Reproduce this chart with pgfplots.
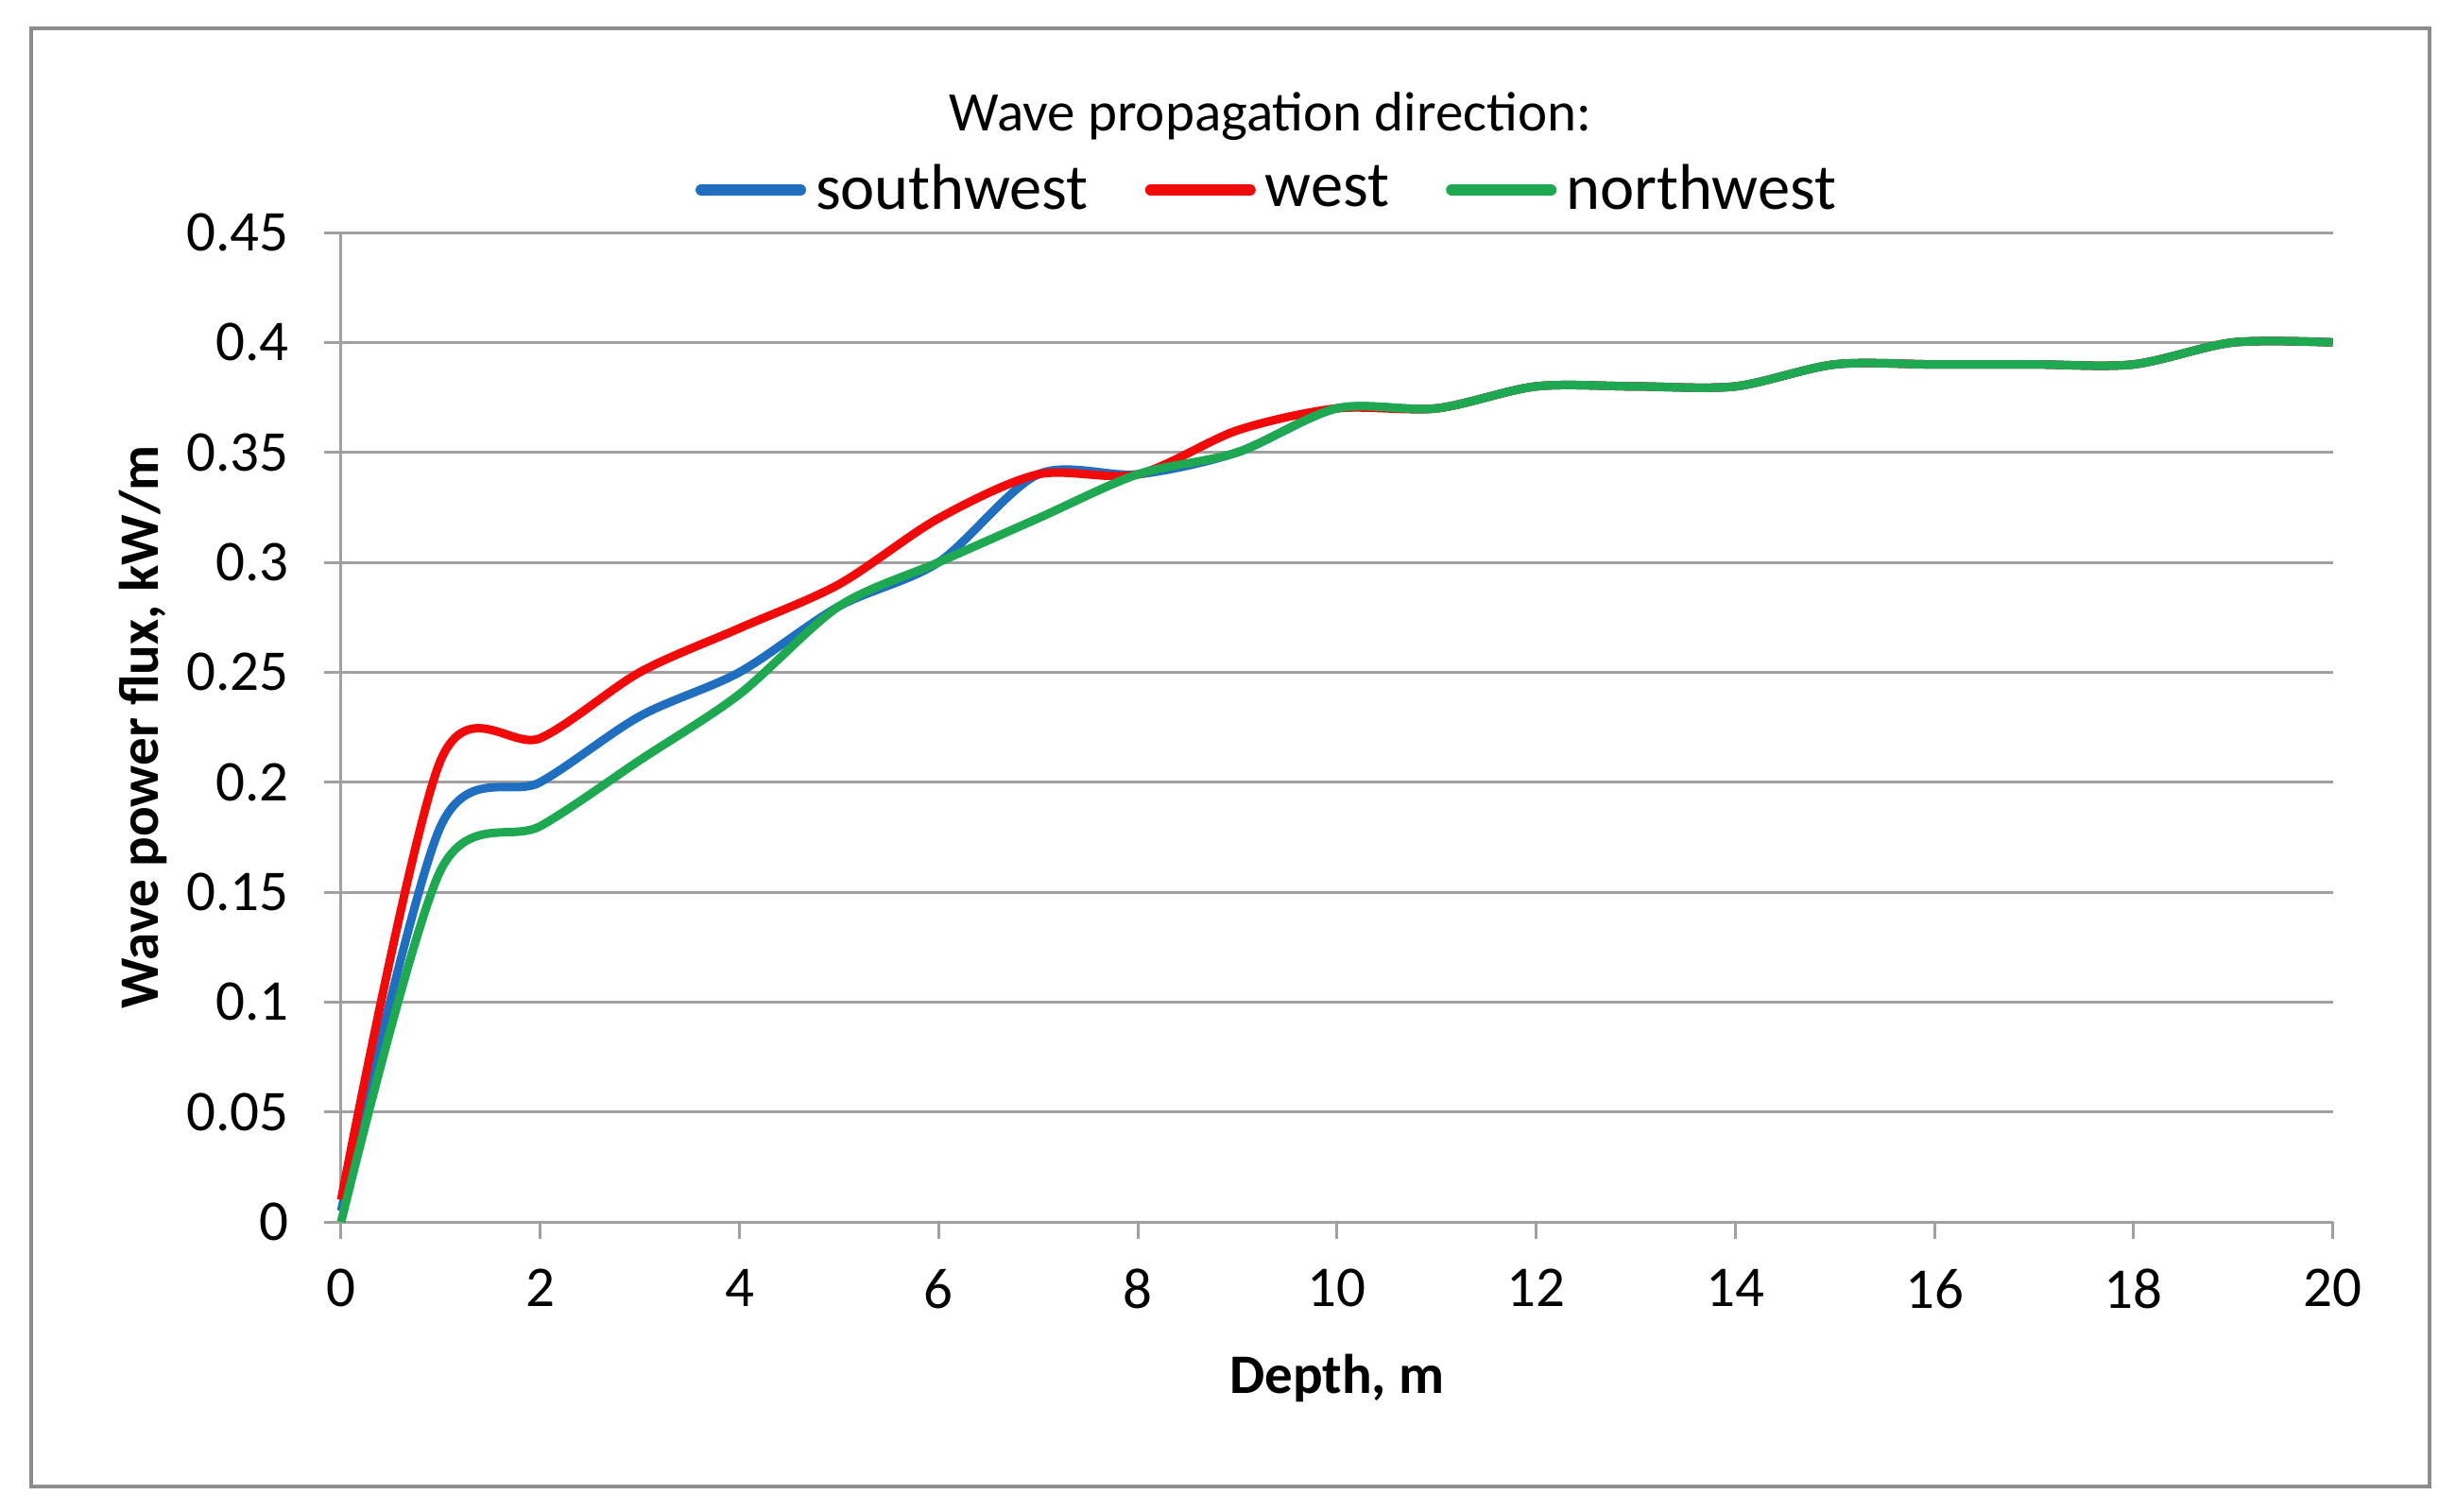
\documentclass[border=0pt]{standalone}
\usepackage{pgfplots}
\pgfplotsset{compat=1.18}
\usepackage{fontspec}
\setmainfont{Carlito}
\definecolor{cblue}{HTML}{1F6EBF}
\definecolor{cred}{HTML}{F00A0A}
\definecolor{cgreen}{HTML}{1DA851}
\definecolor{gridc}{HTML}{A0A0A0}
\definecolor{framec}{HTML}{8C8C8C}
\begin{document}
\begin{tikzpicture}
\path (0,0) rectangle (519.8pt,319.8pt);
\draw[framec, line width=0.9pt] (6.6pt,5.2pt) rectangle (514.2pt,313.8pt);
\begin{axis}[
  at={(72.2pt,61.2pt)}, anchor=south west,
  scale only axis, width=421.5pt, height=209.4pt,
  xmin=0, xmax=20, ymin=0, ymax=0.45,
  xtick={0,2,...,20},
  ytick={0,0.05,0.1,0.15,0.2,0.25,0.3,0.35,0.4,0.45},
  yticklabels={0,0.05,0.1,0.15,0.2,0.25,0.3,0.35,0.4,0.45},
  axis lines*=left,
  axis line style={gridc, line width=0.6pt},
  every tick/.style={gridc, line width=0.6pt},
  tick align=outside, major tick length=3.5pt,
  ymajorgrids, grid style={gridc, line width=0.6pt},
  tick label style={font=\fontsize{12.2}{14}\selectfont},
  /pgf/number format/assume math mode=true,
  xticklabel style={yshift=-3pt},
  yticklabel style={xshift=-4pt},
  xlabel={Depth, m}, ylabel={Wave power flux, kW/m},
  label style={font=\fontsize{11.8}{14}\selectfont\bfseries},
  xlabel style={at={(axis description cs:0.5,-0.158)}, anchor=center},
  ylabel style={at={(axis description cs:-0.0996,0.5)}, anchor=center, rotate=0},
  legend style={at={(axis description cs:0.4667,1.043)}, anchor=center, draw=none, fill=none,
    font=\fontsize{13.7}{15}\selectfont, legend columns=3,
    /tikz/every even column/.append style={column sep=10pt}},
  legend image code/.code={\draw[#1, line width=2.4pt, line cap=round] (0pt,0pt) -- (21pt,0pt);},
  clip=false,
]
\addplot[cblue, line width=1.8pt, smooth, tension=0.5] coordinates {
(0,0.005) (1,0.18) (2,0.20) (3,0.23) (4,0.25) (5,0.28) (6,0.30) (7,0.34) (8,0.34) (9,0.35) (10,0.37)
(11,0.37) (12,0.38) (13,0.38) (14,0.38) (15,0.39) (16,0.39) (17,0.39) (18,0.39) (19,0.40) (20,0.40)};
\addlegendentry{southwest}
\addplot[cred, line width=1.8pt, smooth, tension=0.5] coordinates {
(0,0.01) (1,0.21) (2,0.22) (3,0.25) (4,0.27) (5,0.29) (6,0.32) (7,0.34) (8,0.34) (9,0.36) (10,0.37)
(11,0.37) (12,0.38) (13,0.38) (14,0.38) (15,0.39) (16,0.39) (17,0.39) (18,0.39) (19,0.40) (20,0.40)};
\addlegendentry{west}
\addplot[cgreen, line width=1.8pt, smooth, tension=0.5] coordinates {
(0,0) (1,0.16) (2,0.18) (3,0.21) (4,0.24) (5,0.28) (6,0.30) (7,0.32) (8,0.34) (9,0.35) (10,0.37)
(11,0.37) (12,0.38) (13,0.38) (14,0.38) (15,0.39) (16,0.39) (17,0.39) (18,0.39) (19,0.40) (20,0.40)};
\addlegendentry{northwest}
\node[font=\fontsize{11.8}{14}\selectfont] at (axis description cs:0.4667,1.117) {Wave propagation direction:};
\end{axis}
\end{tikzpicture}
\end{document}
